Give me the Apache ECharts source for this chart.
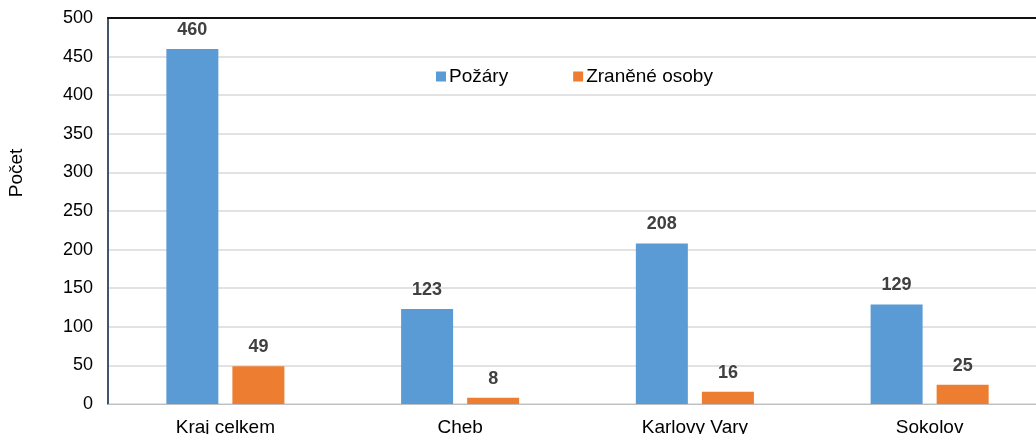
<!DOCTYPE html>
<html><head><meta charset="utf-8">
<script src="https://cdn.jsdelivr.net/npm/echarts@6/dist/echarts.min.js"></script>
<style>html,body{margin:0;padding:0;background:#fff}#c{width:1036px;height:434px}</style>
</head><body><div id="c"></div>
<script>
const categories = ['Kraj celkem', 'Cheb', 'Karlovy Vary', 'Sokolov'];
const pozary = [460, 123, 208, 129];
const zranene = [49, 8, 16, 25];
const yTicks = {min: 0, max: 500, interval: 50};

const chart = echarts.init(document.getElementById('c'), null, {renderer: 'canvas'});
const font = '"Liberation Sans", Arial, sans-serif';
const lbl = {show: true, position: 'top', distance: 10, color: '#404040', fontSize: 18, fontWeight: 'bold', fontFamily: font};
chart.setOption({
  animation: false,
  textStyle: {fontFamily: font},
  grid: {left: 108, width: 939, top: 18, height: 386, containLabel: false, outerBoundsMode: 'none'},
  legend: {
    left: 436, top: 67, padding: 0, itemWidth: 10, itemHeight: 10, itemGap: 65,
    icon: 'rect',
    textStyle: {fontSize: 19, color: '#000', fontFamily: font, padding: [0, 0, 0, -2]},
    data: ['Požáry', 'Zraněné osoby']
  },
  xAxis: [{
    type: 'category', data: categories,
    axisLine: {lineStyle: {color: '#bfbfbf', width: 1}},
    axisTick: {show: false},
    axisLabel: {color: '#000', fontSize: 19, margin: 14, fontFamily: font}
  }, {
    type: 'category', data: categories, position: 'top',
    axisLine: {lineStyle: {color: '#111', width: 2}},
    axisTick: {show: false}, axisLabel: {show: false}
  }],
  yAxis: {
    type: 'value', min: yTicks.min, max: yTicks.max, interval: yTicks.interval,
    axisLine: {show: true, lineStyle: {color: '#44546a', width: 2}},
    axisTick: {show: false},
    axisLabel: {color: '#000', fontSize: 18, margin: 15, fontFamily: font},
    splitLine: {lineStyle: {color: '#d9d9d9', width: 1.5}}
  },
  graphic: [{
    type: 'text', x: 17, y: 173, rotation: Math.PI / 2,
    style: {text: 'Počet', fontSize: 19, fill: '#000', fontFamily: font, align: 'center', verticalAlign: 'middle'}
  }],
  series: [{
    name: 'Požáry', type: 'bar', data: pozary, barWidth: 52, barGap: '27%',
    itemStyle: {color: '#5b9bd5'}, label: lbl
  }, {
    name: 'Zraněné osoby', type: 'bar', data: zranene, barWidth: 52,
    itemStyle: {color: '#ed7d31'}, label: lbl
  }]
});
</script></body></html>
